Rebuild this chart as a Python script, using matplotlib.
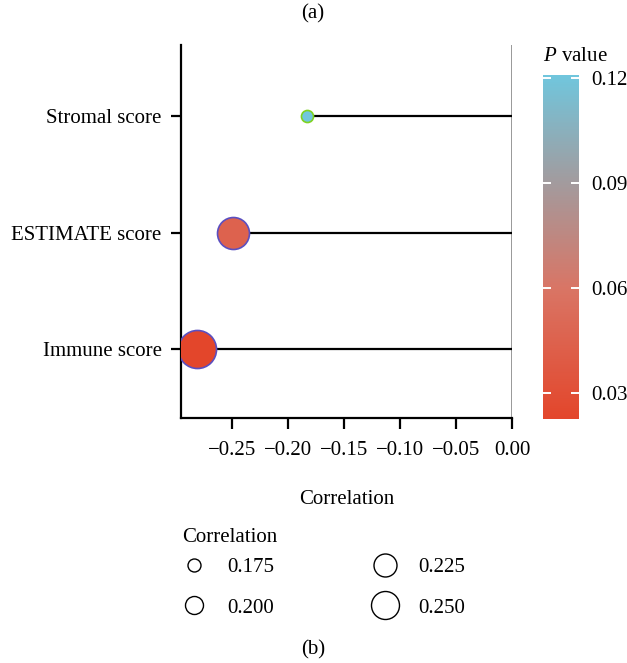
import matplotlib
matplotlib.use("Agg")
import matplotlib.pyplot as plt
import numpy as np
from matplotlib.colors import LinearSegmentedColormap, Normalize
from matplotlib.lines import Line2D
import matplotlib.cm as cm

plt.rcParams['font.family'] = ['Liberation Serif', 'DejaVu Serif']
plt.rcParams['mathtext.fontset'] = 'custom'
plt.rcParams['mathtext.rm'] = 'Liberation Serif'
plt.rcParams['mathtext.it'] = 'Liberation Serif:italic'

# data
labels = ['Immune score', 'ESTIMATE score', 'Stromal score']
corr = [-0.281, -0.249, -0.183]
pvals = [0.0226, 0.045, 0.1209]
legend_vals = [0.175, 0.200, 0.225, 0.250]
xticks = [-0.25, -0.20, -0.15, -0.10, -0.05, 0.00]
cbar_ticks = [0.03, 0.06, 0.09, 0.12]

FS = 15

cmap = LinearSegmentedColormap.from_list(
    'pv', [(0.0, '#E3462B'), (0.38, '#D97565'), (0.69, '#A29B9E'), (1.0, '#70C6DD')])
norm = Normalize(vmin=min(pvals), vmax=max(pvals))

def area(r):
    # marker area (pt^2) from |correlation|
    return max(-1185 + 6888 * r, 60)

fig = plt.figure(figsize=(6.27, 6.63), dpi=100)
ax = fig.add_axes([181/627, 1-418/663, 331/627, 373/663])

y = np.arange(1, len(labels) + 1)
for yi, c, p in zip(y, corr, pvals):
    ax.plot([c, 0], [yi, yi], color='black', lw=1.6, zorder=1)
    edge = '#7ED321' if p > 0.1 else '#5B4FC0'
    ax.scatter(c, yi, s=area(abs(c)), color=cmap(norm(p)), edgecolor=edge, lw=1.2, zorder=3)

ax.axvline(0, color='#888888', lw=1.2, zorder=0)
ax.set_xlim(-0.2955, 0.0)
ax.set_ylim(0.41, 3.61)
ax.set_yticks(y)
ax.set_yticklabels(labels, fontsize=FS)
ax.set_xticks(xticks)
ax.set_xticklabels(['\u2212%.2f' % abs(t) if t < 0 else '%.2f' % t for t in xticks], fontsize=FS)
ax.tick_params(axis='y', length=7.5, width=1.6, color='black', pad=6.5)
ax.tick_params(axis='x', length=8, width=1.6, color='black', pad=8.5)
ax.spines['top'].set_visible(False)
ax.spines['right'].set_visible(False)
for s in ['left', 'bottom']:
    ax.spines[s].set_linewidth(1.6)
ax.set_xlabel('Correlation', fontsize=FS, labelpad=22)

# colorbar
cax = fig.add_axes([543/627, 1-419/663, 36/627, 344/663])
cb = fig.colorbar(cm.ScalarMappable(norm=norm, cmap=cmap), cax=cax)
cb.outline.set_visible(False)
cb.set_ticks(cbar_ticks)
cb.set_ticklabels(['%.2f' % t for t in cbar_ticks])
cax.tick_params(axis='y', direction='in', color='white', length=5.5, width=1.4,
                left=True, right=True, labelsize=FS, pad=9)
cax.text(0, 1.025, r'$P$ value', transform=cax.transAxes, fontsize=FS, ha='left', va='bottom')

# size legend
def diam(r):
    return (13 + (r - 0.175) * 200) * 0.72

handles = [Line2D([], [], ls='none', marker='o', markersize=diam(v),
                  markerfacecolor='white', markeredgecolor='black', markeredgewidth=1.0)
           for v in legend_vals]
leg = fig.legend(handles, ['%.3f' % v for v in legend_vals], ncol=2, frameon=False,
                 loc='upper left', bbox_to_anchor=(165/627, 1-539/663),
                 fontsize=FS, handlelength=1.0,
                 columnspacing=4.8, handletextpad=1.1, labelspacing=1.0)
fig.text(182/627, 1-537/663, 'Correlation', ha='left', va='center', fontsize=FS)

fig.text(313/627, 1-14/663, '(a)', ha='center', va='center', fontsize=FS)
fig.text(313/627, 1-650/663, '(b)', ha='center', va='center', fontsize=FS)

fig.savefig('out.png', dpi=100)
